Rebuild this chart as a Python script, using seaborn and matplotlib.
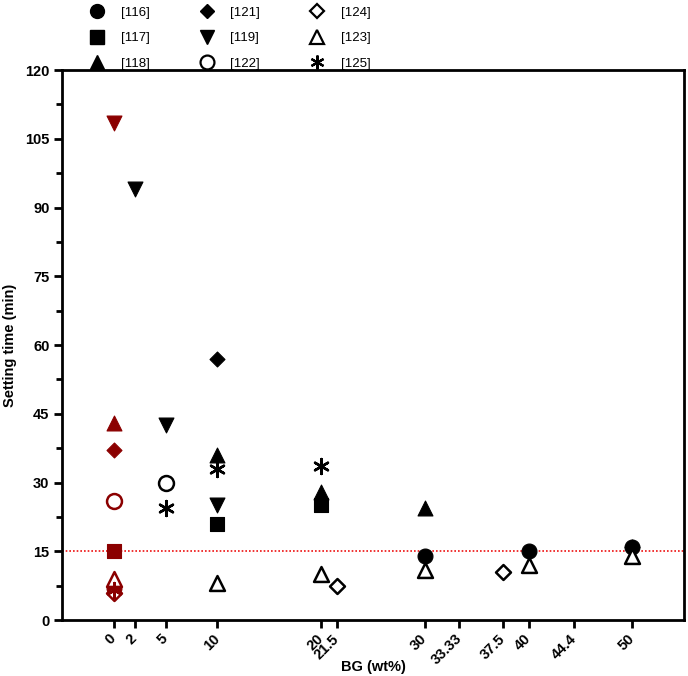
import matplotlib
matplotlib.use("Agg")
import matplotlib.pyplot as plt
from matplotlib.lines import Line2D
import seaborn as sns
import pandas as pd

sns.set_style("white")
plt.rcParams['font.family'] = ['Liberation Sans', 'DejaVu Sans']
plt.rcParams.update({"text.color": "black", "axes.labelcolor": "black",
                     "xtick.color": "black", "ytick.color": "black"})

# ---- data ----
x116 = [0, 30, 40, 50];            y116 = [7, 14, 15, 16]
x117 = [0, 10, 20];                y117 = [15, 21, 25]
x118 = [0, 10, 20, 30];            y118 = [43, 36, 28, 24.5]
x121 = [0, 10, 50];                y121 = [37, 57, 16]
x119 = [0, 2, 5, 10];              y119 = [108.5, 94, 42.5, 25]
x122 = [0, 5];                     y122 = [26, 30]
x124 = [0, 21.5, 37.5];            y124 = [6, 7.5, 10.5]
x123 = [0, 10, 20, 30, 40, 50];    y123 = [9, 8, 10, 11, 12, 14]
x125 = [0, 5, 10, 20];             y125 = [6.5, 24.5, 33, 33.5]

xticks = [0, 2, 5, 10, 20, 21.5, 30, 33.33, 37.5, 40, 44.4, 50]
xticklabels = ["0", "2", "5", "10", "20", "21.5", "30", "33.33", "37.5", "40", "44.4", "50"]
threshold = 15

RED = "#8b0000"
BLACK = "black"

series = [
    ("[116]", x116, y116, "o", True),
    ("[117]", x117, y117, "s", True),
    ("[118]", x118, y118, "^", True),
    ("[121]", x121, y121, "D", True),
    ("[119]", x119, y119, "v", True),
    ("[122]", x122, y122, "o", False),
    ("[124]", x124, y124, "D", False),
    ("[123]", x123, y123, "^", False),
    ("[125]", x125, y125, (6, 2, 0), None),
]
sizes = {"o": 115, "s": 100, "^": 115, "v": 115, "D": 58}

fig = plt.figure(figsize=(6.88, 6.76), dpi=100)
ax = fig.add_axes([0.0901, 0.0828, 0.9041, 0.8136])

ax.axhline(threshold, color="#ee1111", linestyle=(0, (1, 1.2)), linewidth=1.2, zorder=1)

for name, xs, ys, mk, filled in series:
    df = pd.DataFrame({"x": xs, "y": ys})
    for is_ctrl, sub in df.groupby(df["x"] == 0):
        col = RED if is_ctrl else BLACK
        s = sizes.get(mk, 90) if not isinstance(mk, tuple) else 115
        if filled is True:
            sns.scatterplot(data=sub, x="x", y="y", marker=mk, s=s, color=col,
                            edgecolor=col, linewidth=0.8, ax=ax, zorder=3)
        elif filled is False:
            sns.scatterplot(data=sub, x="x", y="y", marker=mk, s=s, facecolor="white",
                            edgecolor=col, linewidth=1.8, ax=ax, zorder=3)
        else:
            sns.scatterplot(data=sub, x="x", y="y", marker=mk, s=s, color=col,
                            edgecolor=col, linewidth=1.8, ax=ax, zorder=3)

ax.set_xlim(-5, 55)
ax.set_ylim(0, 120)
ax.set_yticks(range(0, 121, 15))
ax.set_yticks([7.5 + 15 * i for i in range(8)], minor=True)
ax.set_xticks(xticks)
ax.set_xticklabels(xticklabels, rotation=45, ha="right", va="center",
                   rotation_mode="anchor", fontsize=10.5, fontweight="bold")
for lab in ax.get_yticklabels():
    lab.set_fontweight("bold")
    lab.set_fontsize(10.5)
ax.tick_params(axis="both", which="major", direction="out", length=6, width=2,
               bottom=True, left=True, pad=3, colors="black")
ax.tick_params(axis="x", which="major", pad=6)
ax.tick_params(axis="y", which="minor", direction="out", length=4, width=2, left=True,
               colors="black")
ax.set_xlabel("BG (wt%)", fontsize=10.5, fontweight="bold", color="black")
ax.xaxis.set_label_coords(0.5, -0.073)
ax.set_ylabel("Setting time (min)", fontsize=10.5, fontweight="bold", labelpad=6,
              color="black")
for sp in ax.spines.values():
    sp.set_visible(True)
    sp.set_color("black")
    sp.set_linewidth(2)

handles = []
for name, xs, ys, mk, filled in series:
    if filled is True:
        h = Line2D([], [], linestyle="none", marker=mk, markersize=10 if mk != "D" else 7,
                   color="black", markeredgecolor="black")
    elif filled is False:
        h = Line2D([], [], linestyle="none", marker=mk, markersize=10 if mk != "D" else 7,
                   markerfacecolor="white", markeredgecolor="black", markeredgewidth=1.6)
    else:
        h = Line2D([], [], linestyle="none", marker=mk, markersize=10,
                   color="black", markeredgewidth=1.6)
    handles.append(h)
labels = [s[0] for s in series]
leg = fig.legend(handles, labels, loc="upper left", bbox_to_anchor=(0.105, 1.008), ncol=3,
                 frameon=False, fontsize=9.5, columnspacing=3.3, handletextpad=0.8,
                 labelspacing=1.0)
for t in leg.get_texts():
    t.set_color("black")

fig.savefig("out.png", dpi=100)
